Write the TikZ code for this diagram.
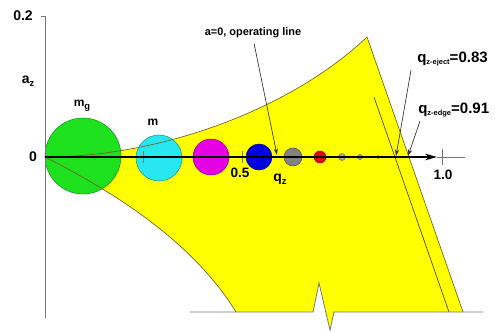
\documentclass[tikz,border=0pt]{standalone}
\usepackage{fontspec}
\setmainfont{Liberation Sans}
\usetikzlibrary{arrows.meta,positioning}

\definecolor{trapyellow}{RGB}{255,255,0}
\definecolor{edgeolive}{RGB}{110,100,40}
\definecolor{axisgray}{RGB}{120,120,120}
\definecolor{iongreen}{RGB}{30,225,30}
\definecolor{ioncyan}{RGB}{40,230,240}
\definecolor{ionmagenta}{RGB}{230,0,230}
\definecolor{ionblue}{RGB}{0,0,225}
\definecolor{iongray}{RGB}{130,130,130}
\definecolor{ionlight}{RGB}{170,170,170}
\definecolor{ionred}{RGB}{230,0,0}

\newcommand{\dn}[1]{\raisebox{-0.45ex}{\fontsize{7}{8}\selectfont #1}}
\newcommand{\tinydn}[1]{\raisebox{-0.2ex}{\fontsize{5.6}{6}\selectfont #1}}

\begin{document}
\begin{tikzpicture}[x=0.75pt,y=-0.75pt,
  ion/.style={circle, draw=#1!65!black, fill=#1, inner sep=0pt},
  num/.style={inner sep=0pt, font=\bfseries\fontsize{10.2}{12}\selectfont},
  big/.style={inner sep=0pt, font=\bfseries\fontsize{10.5}{12}\selectfont},
  qlbl/.style={inner sep=0pt, font=\bfseries\fontsize{11.3}{13}\selectfont},
  pointer/.style={-{Stealth[length=5pt,width=3.2pt]}, draw=black!80, line width=0.5pt},
  tick/.style={draw=axisgray, line width=0.5pt}
]
  \useasboundingbox (0,0) rectangle (495,332);

  % stable region
  \fill[trapyellow] (45,157) .. controls (160,157) and (290,110) .. (367,37)
    -- (463,312) -- (334,312) -- (330,330) -- (319,283) -- (313,312) -- (236,312)
    .. controls (195,245) and (120,195) .. (45,157) -- cycle;

  % ions
  \node[ion=iongreen, minimum size=57pt] (mg) at (83,156) {};
  \node[ion=ioncyan, minimum size=34.5pt] (m) at (159,158) {};
  \node[ion=ionmagenta, minimum size=27pt] (i3) at (211,157) {};
  \node[ion=ionblue, minimum size=19.5pt] (i4) at (259,157) {};
  \node[ion=iongray, minimum size=13.5pt] (i5) at (293,157) {};
  \node[ion=ionred, minimum size=9pt] (i6) at (320,157) {};
  \node[ion=ionlight, minimum size=5.2pt] (i7) at (342,157) {};
  \node[ion=ionlight, minimum size=3.8pt] (i8) at (360,157) {};
  \node[ion=ionlight, minimum size=2.2pt] (i9) at (378,157) {};

  % boundaries
  \draw[edgeolive, line width=0.5pt] (45,157) .. controls (160,157) and (290,110) .. (367,37)
    -- (463,312);
  \draw[edgeolive, line width=0.5pt] (45,157) .. controls (120,195) and (195,245) .. (236,312);
  \draw[black!75, line width=0.5pt] (374,97) -- (449,312);
  \draw[axisgray, line width=0.6pt] (190,312) -- (313,312) -- (319,283) -- (330,330)
    -- (334,312) -- (483,312);

  % axes
  \coordinate (O) at (45,157);
  \coordinate (xend) at (437,157);
  \draw[axisgray, line width=0.6pt] (45,318) -- (45,16) -- (41,16);
  \draw[axisgray, line width=0.6pt] (xend) -- (465,157);
  \draw[tick] (143,151) -- (143,163);
  \draw[tick] (242,151) -- (242,163);
  \draw[tick] (442,149) -- (442,165);
  \draw[-{Stealth[length=9pt,width=5pt]}, line width=1.4pt] (O) -- (xend);

  % labels
  \node[big] (ytop) at (23,16) {0.2};
  \node[big] (zero) at (33,157) {0};
  \node[big] (az) at (28,81) {a\dn{z}};
  \node[big, font=\bfseries\fontsize{9}{10}\selectfont] (mglbl) at (82,106) {m\dn{g}};
  \node[big, font=\bfseries\fontsize{9}{10}\selectfont] (mlbl) at (153,122) {m};
  \node[num] (half) at (240,173) {0.5};
  \node[num] (one) at (443,175) {1.0};
  \node[big] (qz) at (280,179) {q\dn{z}};

  \node[inner sep=0pt, font=\bfseries\fontsize{8.2}{9}\selectfont] (oplbl) at (253,33) {a=0, operating line};
  \node[qlbl, anchor=west] (ejlbl) at (417,59) {q\tinydn{z-eject}=0.83};
  \node[qlbl, anchor=west] (edlbl) at (418,110) {q\tinydn{z-edge}=0.91};

  \coordinate (opTip) at (277,155);
  \coordinate (ejTip) at (396,156);
  \coordinate (edTip) at (408,156);
  \draw[pointer, shorten <=4pt] (oplbl.south) -- (opTip);
  \draw[pointer] ([xshift=-4.5pt,yshift=-3pt]ejlbl.south west) -- (ejTip);
  \draw[pointer] ([xshift=1.5pt,yshift=-3pt]edlbl.south west) -- (edTip);
\end{tikzpicture}
\end{document}
